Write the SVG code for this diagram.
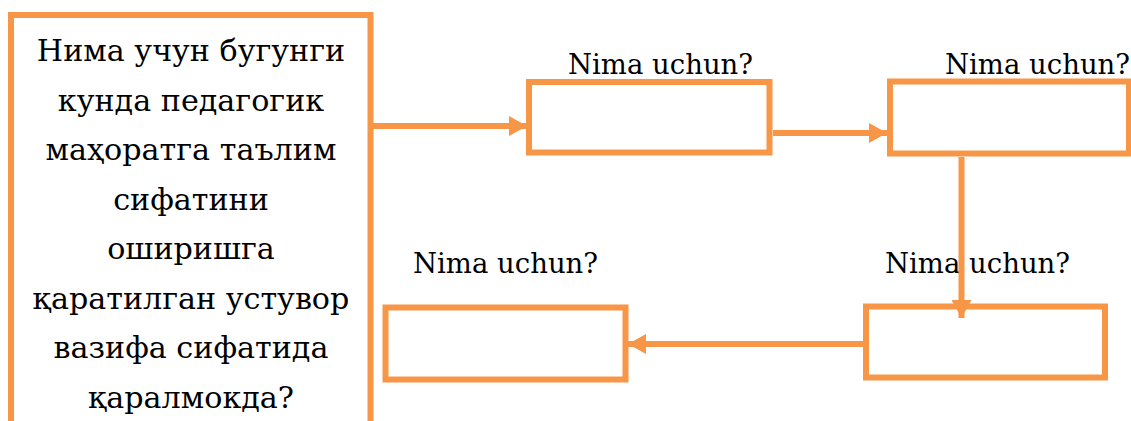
<svg xmlns="http://www.w3.org/2000/svg" width="1131" height="421" viewBox="0 0 1131 421">
  <style>
    .box { fill: #FFFFFF; stroke: #F79646; stroke-width: 6; }
    .conn { stroke: #F79646; stroke-width: 6; fill: none; }
    .main { font-family: 'DejaVu Serif', 'Liberation Serif', serif; font-size: 30.2px; fill: #000000; text-anchor: middle; }
    .lbl { font-family: 'DejaVu Serif', 'Liberation Serif', serif; font-size: 27.5px; fill: #000000; }
  </style>
  <defs>
    <marker id="ah" viewBox="0 0 18 20" refX="18" refY="10" markerWidth="18" markerHeight="20" markerUnits="userSpaceOnUse" orient="auto">
      <polygon points="0,0 18,10 0,20" fill="#F79646"/>
    </marker>
  </defs>
  <rect x="0" y="0" width="1131" height="421" fill="#FFFFFF"/>

  <g id="node-question">
    <rect class="box" x="11" y="15" width="359.5" height="440"/>
    <text class="main" x="191" y="61">Нима учун бугунги</text>
    <text class="main" x="191" y="110.5">кунда педагогик</text>
    <text class="main" x="191" y="160">маҳоратга таълим</text>
    <text class="main" x="191" y="209.5">сифатини</text>
    <text class="main" x="191" y="259">оширишга</text>
    <text class="main" x="191" y="308.5">қаратилган устувор</text>
    <text class="main" x="191" y="358">вазифа сифатида</text>
    <text class="main" x="191" y="407.5">қаралмокда?</text>
  </g>

  <g id="node-1">
    <rect class="box" x="529" y="82" width="240.5" height="70.5"/>
    <text class="lbl" x="568" y="74">Nima uchun?</text>
  </g>

  <g id="node-2">
    <rect class="box" x="890" y="81.5" width="239" height="72"/>
    <text class="lbl" x="945" y="74">Nima uchun?</text>
  </g>

  <g id="node-3">
    <rect class="box" x="866" y="306.5" width="239" height="71"/>
    <text class="lbl" x="885" y="273">Nima uchun?</text>
  </g>

  <g id="node-4">
    <rect class="box" x="385.5" y="307.5" width="240" height="72"/>
    <text class="lbl" x="413" y="273">Nima uchun?</text>
  </g>

  <g id="connectors">
    <line class="conn" x1="373" y1="126" x2="527" y2="126" marker-end="url(#ah)"/>
    <line class="conn" x1="773" y1="133" x2="887" y2="133" marker-end="url(#ah)"/>
    <line class="conn" x1="961.5" y1="157" x2="961.5" y2="318" marker-end="url(#ah)"/>
    <line class="conn" x1="863" y1="344" x2="628" y2="344" marker-end="url(#ah)"/>
  </g>
</svg>
